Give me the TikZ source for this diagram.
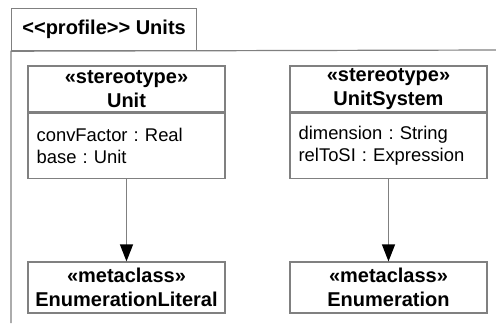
\documentclass[tikz,border=0pt]{standalone}
\usepackage{fontspec}
\setmainfont{Liberation Sans}
\usetikzlibrary{arrows.meta}
\definecolor{linegray}{RGB}{128,128,128}
\tikzset{
  tabbox/.style={draw=linegray, line width=0.6pt, minimum width=92.5pt, minimum height=21pt, inner sep=0pt, font=\bfseries},
  classhead/.style={draw=linegray, line width=0.6pt, minimum width=98.5pt, minimum height=23pt, inner sep=0pt, font=\bfseries, align=center},
  classattr/.style={draw=linegray, line width=0.6pt, text width=89.9pt, inner xsep=4.3pt, inner ysep=0pt, minimum height=32.5pt, align=left},
  metaclass/.style={classhead, minimum height=25.5pt},
  extends/.style={draw=linegray, line width=0.6pt, -{Triangle[length=8.5pt,width=6.5pt,black]}}
}
\begin{document}
\frenchspacing
\begin{tikzpicture}[x=0.5pt, y=-0.5pt, font=\fontsize{9.2}{11}\selectfont]
\useasboundingbox (0,0) rectangle (496,323);
% Profile package
\node[tabbox, anchor=north west] (tab) at (11,8) {<\kern0pt<profile>\kern0pt> Units};
\coordinate (pkgright) at (496,50);
\coordinate (pkgbottom) at (11,323);
\draw[linegray, line width=0.6pt] (pkgright) -- (tab.south west) -- (pkgbottom);
% Stereotypes
\node[classhead] (unit) at (126.5,89) {«stereotype»\\Unit};
\node[classattr, anchor=north] (unitattr) at (unit.south) {convFactor : Real\\base : Unit};
\node[classhead] (unitsys) at (388.5,89) {«stereotype»\\UnitSystem};
\node[classattr, anchor=north] (unitsysattr) at (unitsys.south) {dimension : String\\relToSI : Expression};
% Metaclasses
\node[metaclass] (enumlit) at (126.5,287.5) {«metaclass»\\EnumerationLiteral};
\node[metaclass] (enum) at (388.5,287.5) {«metaclass»\\Enumeration};
% Extensions
\draw[extends] (unitattr) -- (enumlit);
\draw[extends] (unitsysattr) -- (enum);
\end{tikzpicture}
\end{document}
